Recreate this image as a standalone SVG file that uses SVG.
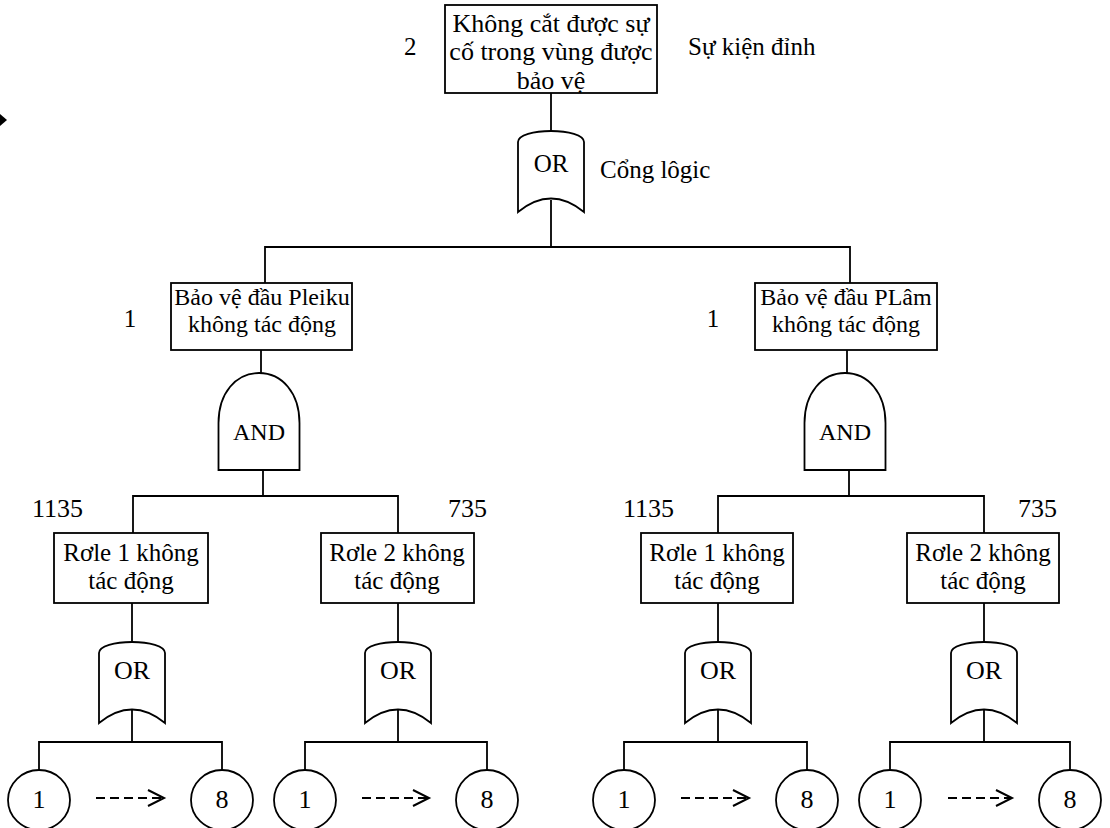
<svg xmlns="http://www.w3.org/2000/svg" xmlns:xlink="http://www.w3.org/1999/xlink" width="1110" height="828" viewBox="0 0 1110 828">
<style>
  text { font-family: "Liberation Serif", "Times New Roman", serif; fill: #000; }
  .t24 { font-size: 24px; }
  .t25 { font-size: 25px; }
  .t26 { font-size: 26px; }
  .c { text-anchor: middle; }
  .box { fill: #fff; stroke: #000; stroke-width: 1.8; }
  .gate { fill: #fff; stroke: #000; stroke-width: 1.8; }
  .ln { fill: none; stroke: #000; stroke-width: 1.8; }
  .dash { fill: none; stroke: #000; stroke-width: 2; stroke-dasharray: 9 5; }
  .head { fill: none; stroke: #000; stroke-width: 2; }
</style>
<defs>
  <path id="orShape" d="M-33,81 V11 C-33,4 -17,0 0,0 C17,0 33,4 33,11 V81 Q0,54 -33,81 Z"/>
  <path id="andShape" d="M-40.5,97 V50 C-40.5,20 -23,0 0,0 C23,0 40.5,20 40.5,50 V97 Z"/>
</defs>
<rect width="1110" height="828" fill="#fff"/>
<polygon points="0,114 7,120 0,126" fill="#000"/>

<g id="connectors">
  <line class="ln" x1="551" y1="93" x2="551" y2="131"/>
  <line class="ln" x1="551" y1="200" x2="551" y2="247"/>
  <polyline class="ln" points="265,283 265,247 850,247 850,283"/>
  <line class="ln" x1="261" y1="350" x2="261" y2="373"/>
  <line class="ln" x1="263" y1="470" x2="263" y2="496"/>
  <polyline class="ln" points="133,533 133,496 398,496 398,533"/>
  <line class="ln" x1="847" y1="350" x2="847" y2="373"/>
  <line class="ln" x1="849" y1="470" x2="849" y2="496"/>
  <polyline class="ln" points="718,533 718,496 984,496 984,533"/>
  <line class="ln" x1="132" y1="603" x2="132" y2="642"/>
  <line class="ln" x1="398" y1="603" x2="398" y2="642"/>
  <line class="ln" x1="718" y1="603" x2="718" y2="642"/>
  <line class="ln" x1="984" y1="603" x2="984" y2="642"/>
  <line class="ln" x1="132" y1="709" x2="132" y2="742"/>
  <line class="ln" x1="398" y1="709" x2="398" y2="742"/>
  <line class="ln" x1="718" y1="709" x2="718" y2="742"/>
  <line class="ln" x1="984" y1="709" x2="984" y2="742"/>
  <polyline class="ln" points="39,770 39,742 222,742 222,770"/>
  <polyline class="ln" points="305,770 305,742 487,742 487,770"/>
  <polyline class="ln" points="624,770 624,742 807,742 807,770"/>
  <polyline class="ln" points="890,770 890,742 1070,742 1070,770"/>
  <line class="dash" x1="96" y1="798" x2="162" y2="798"/>
  <polyline class="head" points="148,790 164,798 148,806"/>
  <line class="dash" x1="362" y1="798" x2="427" y2="798"/>
  <polyline class="head" points="413,790 429,798 413,806"/>
  <line class="dash" x1="681" y1="798" x2="747" y2="798"/>
  <polyline class="head" points="733,790 749,798 733,806"/>
  <line class="dash" x1="948" y1="798" x2="1010" y2="798"/>
  <polyline class="head" points="996,790 1012,798 996,806"/>
</g>

<g id="top-event">
  <rect class="box" x="445" y="5" width="212" height="88"/>
  <text class="t26 c" x="551" y="32">Không cắt được sự</text>
  <text class="t26 c" x="551" y="60">cố trong vùng được</text>
  <text class="t26 c" x="551" y="89">bảo vệ</text>
  <text class="t25" x="404" y="55">2</text>
  <text class="t25" x="688" y="55">Sự kiện đỉnh</text>
</g>

<g id="gate-top-or">
  <use xlink:href="#orShape" href="#orShape" class="gate" transform="translate(551,131)"/>
  <text class="t25 c" x="551" y="172">OR</text>
  <text class="t25" x="600" y="178">Cổng lôgic</text>
</g>

<g id="pleiku">
  <rect class="box" x="171" y="283" width="181" height="67"/>
  <text class="t24 c" x="262" y="305">Bảo vệ đầu Pleiku</text>
  <text class="t24 c" x="262" y="332">không tác động</text>
  <text class="t25 c" x="130" y="327">1</text>
</g>

<g id="plam">
  <rect class="box" x="755" y="283" width="182" height="67"/>
  <text class="t24 c" x="846" y="305">Bảo vệ đầu PLâm</text>
  <text class="t24 c" x="846" y="332">không tác động</text>
  <text class="t25 c" x="713" y="327">1</text>
</g>

<g id="and-left">
  <use xlink:href="#andShape" href="#andShape" class="gate" transform="translate(259,373)"/>
  <text class="t24 c" x="259" y="440">AND</text>
</g>

<g id="and-right">
  <use xlink:href="#andShape" href="#andShape" class="gate" transform="translate(845,373)"/>
  <text class="t24 c" x="845" y="440">AND</text>
</g>

<g id="relay-l1">
  <rect class="box" x="54" y="533" width="154" height="70"/>
  <text class="t25 c" x="131" y="561">Rơle 1 không</text>
  <text class="t25 c" x="131" y="589">tác động</text>
  <text class="t26" x="32" y="517">1135</text>
</g>
<g id="relay-l2">
  <rect class="box" x="321" y="533" width="153" height="70"/>
  <text class="t25 c" x="397" y="561">Rơle 2 không</text>
  <text class="t25 c" x="397" y="589">tác động</text>
  <text class="t26" x="448" y="517">735</text>
</g>
<g id="relay-r1">
  <rect class="box" x="641" y="533" width="152" height="70"/>
  <text class="t25 c" x="717" y="561">Rơle 1 không</text>
  <text class="t25 c" x="717" y="589">tác động</text>
  <text class="t26" x="623" y="517">1135</text>
</g>
<g id="relay-r2">
  <rect class="box" x="907" y="533" width="152" height="70"/>
  <text class="t25 c" x="983" y="561">Rơle 2 không</text>
  <text class="t25 c" x="983" y="589">tác động</text>
  <text class="t26" x="1018" y="517">735</text>
</g>

<g id="or-l1">
  <use xlink:href="#orShape" href="#orShape" class="gate" transform="translate(132,642)"/>
  <text class="t26 c" x="132" y="679">OR</text>
</g>
<g id="or-l2">
  <use xlink:href="#orShape" href="#orShape" class="gate" transform="translate(398,642)"/>
  <text class="t26 c" x="398" y="679">OR</text>
</g>
<g id="or-r1">
  <use xlink:href="#orShape" href="#orShape" class="gate" transform="translate(718,642)"/>
  <text class="t26 c" x="718" y="679">OR</text>
</g>
<g id="or-r2">
  <use xlink:href="#orShape" href="#orShape" class="gate" transform="translate(984,642)"/>
  <text class="t26 c" x="984" y="679">OR</text>
</g>

<g id="c-l1a"><ellipse class="box" cx="39" cy="800" rx="31" ry="30"/><text class="t26 c" x="39" y="808">1</text></g>
<g id="c-l1b"><ellipse class="box" cx="222" cy="800" rx="31" ry="30"/><text class="t26 c" x="222" y="808">8</text></g>
<g id="c-l2a"><ellipse class="box" cx="305" cy="800" rx="31" ry="30"/><text class="t26 c" x="305" y="808">1</text></g>
<g id="c-l2b"><ellipse class="box" cx="487" cy="800" rx="31" ry="30"/><text class="t26 c" x="487" y="808">8</text></g>
<g id="c-r1a"><ellipse class="box" cx="624" cy="800" rx="31" ry="30"/><text class="t26 c" x="624" y="808">1</text></g>
<g id="c-r1b"><ellipse class="box" cx="807" cy="800" rx="31" ry="30"/><text class="t26 c" x="807" y="808">8</text></g>
<g id="c-r2a"><ellipse class="box" cx="890" cy="800" rx="31" ry="30"/><text class="t26 c" x="890" y="808">1</text></g>
<g id="c-r2b"><ellipse class="box" cx="1070" cy="800" rx="31" ry="30"/><text class="t26 c" x="1070" y="808">8</text></g>
</svg>
